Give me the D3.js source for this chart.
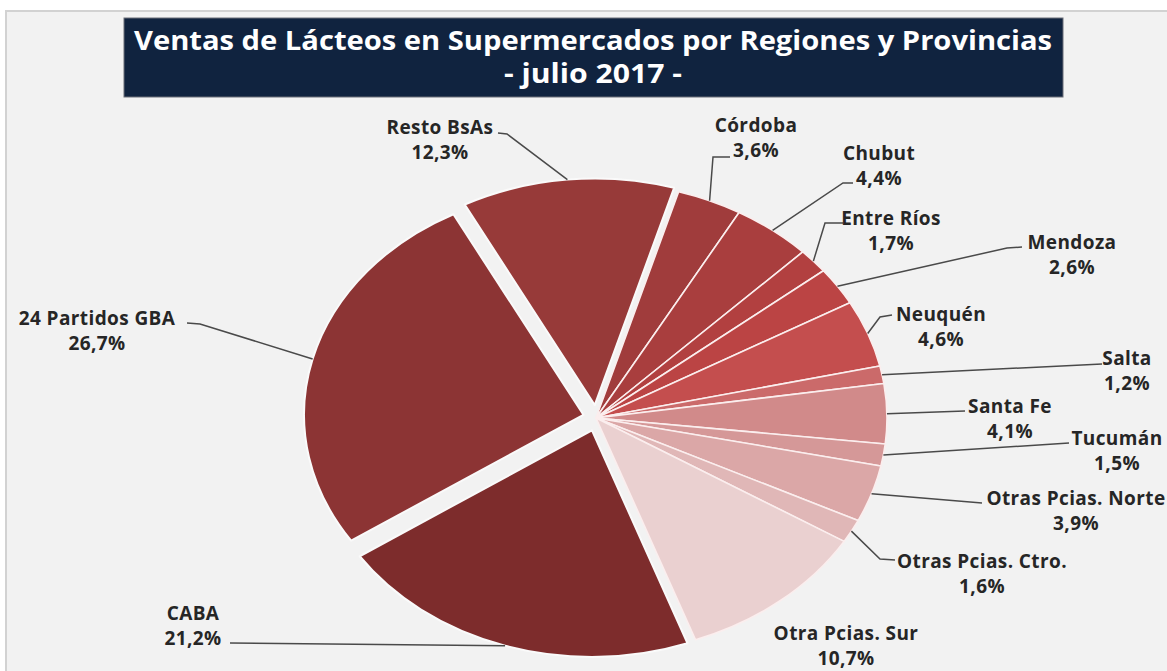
<!DOCTYPE html>
<html>
<head>
<meta charset="utf-8">
<script src="https://cdn.jsdelivr.net/npm/d3@7"></script>
<style>
  html, body { margin: 0; padding: 0; background: #ffffff; }
  svg { display: block; }
  text { font-family: "Open Sans", "DejaVu Sans", sans-serif; }
</style>
</head>
<body>
<svg id="chart" width="1167" height="671"></svg>
<script>
// Dairy sales in supermarkets by region / province, July 2017 (share of total, %)
const categories = [
  "CABA", "24 Partidos GBA", "Resto BsAs", "Córdoba", "Chubut", "Entre Ríos",
  "Mendoza", "Neuquén", "Salta", "Santa Fe", "Tucumán",
  "Otras Pcias. Norte", "Otras Pcias. Ctro.", "Otra Pcias. Sur"
];
const shares = [21.2, 26.7, 12.3, 3.6, 4.4, 1.7, 2.6, 4.6, 1.2, 4.1, 1.5, 3.9, 1.6, 10.7];
const sliceColors = [
  "#7d2c2c", "#8c3434", "#973a39", "#a03c3c", "#a93e3e", "#b24040", "#bb4444",
  "#c44e4e", "#cb6a6a", "#d18a8a", "#d59898", "#dba7a7", "#e0b7b7", "#ead0d0"
];
const explodedCategories = ["CABA", "24 Partidos GBA", "Resto BsAs"];
const titleLines = ["Ventas de Lácteos en Supermercados por Regiones y Provincias", "- julio 2017 -"];

// Label placement: name baseline position and the bend points of each leader line
const labelLayout = {
  "CABA":               { x: 193,  y: 620, leader: [[230, 643]] },
  "24 Partidos GBA":    { x: 97,   y: 325, leader: [[187, 323], [200, 324]] },
  "Resto BsAs":         { x: 440,  y: 134, leader: [[498, 133], [507, 134]] },
  "Córdoba":            { x: 756,  y: 132, leader: [[730, 157], [713, 157]] },
  "Chubut":             { x: 879,  y: 160, leader: [[853, 183], [843, 183]] },
  "Entre Ríos":         { x: 891,  y: 225, leader: [[843, 223], [825, 223]] },
  "Mendoza":            { x: 1072, y: 249, leader: [[1022, 247], [1007, 248]] },
  "Neuquén":            { x: 941,  y: 321, leader: [[892, 315], [880, 317]] },
  "Salta":              { x: 1127, y: 365, leader: [[1102, 364]] },
  "Santa Fe":           { x: 1010, y: 413, leader: [[965, 411]] },
  "Tucumán":            { x: 1117, y: 445, leader: [[1069, 443]] },
  "Otras Pcias. Norte": { x: 1076, y: 505, leader: [[982, 503]] },
  "Otras Pcias. Ctro.": { x: 982,  y: 568, leader: [[895, 560], [880, 559]] },
  "Otra Pcias. Sur":    { x: 846,  y: 640, leader: [] }
};

const W = 1167, H = 671;
const svg = d3.select("#chart");

// Panel background and frame
svg.append("rect").attr("x", 0).attr("y", 0).attr("width", W).attr("height", H).attr("fill", "#ffffff");
svg.append("rect")
  .attr("x", 6).attr("y", 11).attr("width", W + 20).attr("height", H + 20)
  .attr("fill", "#f2f2f2").attr("stroke", "#d2d2d2").attr("stroke-width", 2);

// Title banner
svg.append("rect")
  .attr("x", 124).attr("y", 18).attr("width", 939).attr("height", 79)
  .attr("fill", "#10233f").attr("stroke", "#6b6f78").attr("stroke-width", 1);
svg.append("text")
  .attr("x", 593).attr("y", 50).attr("text-anchor", "middle")
  .attr("textLength", 918).attr("lengthAdjust", "spacingAndGlyphs")
  .attr("font-size", 26).attr("font-weight", 700).attr("fill", "#ffffff")
  .text(titleLines[0]);
svg.append("text")
  .attr("x", 593).attr("y", 83).attr("text-anchor", "middle")
  .attr("textLength", 178).attr("lengthAdjust", "spacingAndGlyphs")
  .attr("font-size", 26).attr("font-weight", 700).attr("fill", "#ffffff")
  .text(titleLines[1]);

// Pie geometry: an ellipse, drawn as a circular arc stretched horizontally
const cx = 596, cy = 418;
const ry = 236, rx = 291;
const sx = rx / ry;
const explodeDist = 13;
const explodeShrink = 0.96;

const data = categories.map((c, i) => ({ name: c, value: shares[i], color: sliceColors[i] }));

const pie = d3.pie()
  .value(d => d.value)
  .sort(null)
  .startAngle(160 * Math.PI / 180)
  .endAngle(160 * Math.PI / 180 + 2 * Math.PI);

const arcs = pie(data);
const isExploded = d => explodedCategories.includes(d.data.name);

arcs.forEach(a => {
  const mid = (a.startAngle + a.endAngle) / 2;
  const ex = isExploded(a);
  a.r = ex ? ry * explodeShrink : ry;
  a.ox = cx + (ex ? explodeDist * Math.sin(mid) : 0);
  a.oy = cy - (ex ? explodeDist * Math.cos(mid) : 0);
  a.mid = mid;
});

const arcGen = d3.arc().innerRadius(0);

const slices = svg.append("g");
slices.selectAll("path")
  .data(arcs)
  .join("path")
  .attr("transform", d => `translate(${d.ox},${d.oy}) scale(${sx},1)`)
  .attr("d", d => arcGen.outerRadius(d.r)(d))
  .attr("fill", d => d.data.color)
  .attr("stroke", d => isExploded(d) ? "#fafafa" : "#fbeeee")
  .attr("stroke-width", d => isExploded(d) ? 2 : 1.6)
  .attr("stroke-linejoin", "round")
  .attr("vector-effect", "non-scaling-stroke");

// Leader lines end on the outer edge of each slice at its mid angle
const edgePoint = d => [d.ox + d.r * sx * Math.sin(d.mid), d.oy - d.r * Math.cos(d.mid)];

const leaders = svg.append("g");
arcs.forEach(d => {
  const lay = labelLayout[d.data.name];
  if (!lay || lay.leader.length === 0) return;
  const pts = lay.leader.concat([edgePoint(d)]);
  leaders.append("path")
    .attr("d", d3.line()(pts))
    .attr("fill", "none")
    .attr("stroke", "#4a4a4a")
    .attr("stroke-width", 1.5);
});

// Category and percentage labels
const fmt = v => d3.format(".1f")(v).replace(".", ",") + "%";
const labels = svg.append("g");
arcs.forEach(d => {
  const lay = labelLayout[d.data.name];
  const t = labels.append("text")
    .attr("text-anchor", "middle")
    .attr("font-size", 19)
    .attr("letter-spacing", 0.4)
    .attr("font-weight", 700)
    .attr("fill", "#262626");
  t.append("tspan").attr("x", lay.x).attr("y", lay.y).text(d.data.name);
  t.append("tspan").attr("x", lay.x).attr("y", lay.y + 25).text(fmt(d.data.value));
});
</script>
</body>
</html>
